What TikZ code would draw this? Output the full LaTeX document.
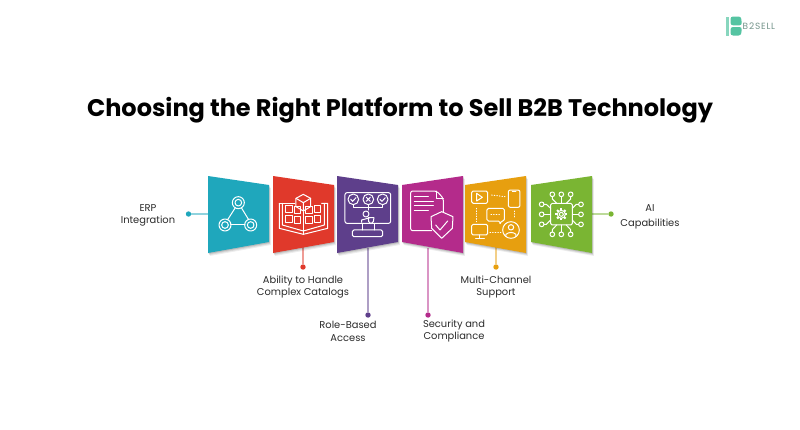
\documentclass[tikz,border=0pt]{standalone}
\usepackage{fontspec}
\setmainfont{Poppins}
\usepackage{tikz}
\usetikzlibrary{arrows.meta, positioning}
\definecolor{tealc}{HTML}{1FA7BC}
\definecolor{redc}{HTML}{E0392B}
\definecolor{purplec}{HTML}{5E3F8B}
\definecolor{magentac}{HTML}{B42B8B}
\definecolor{orangec}{HTML}{E79F0F}
\definecolor{greenc}{HTML}{7AB533}
\definecolor{logoc}{HTML}{55C4A2}
\definecolor{textc}{HTML}{2B2B2B}
\pgfmathsetmacro{\wdpanel}{61}
\tikzset{
	label/.style={font=\fontsize{9.9}{12.2}\selectfont, text=textc, align=center, inner sep=0},
	dot/.style={circle, fill=#1, inner sep=0, minimum size=5.4},
	stem/.style={line width=1.5, #1!50},
	icon/.style={white, line width=1, line join=round, line cap=round},
	dots/.style={icon, dash pattern=on .6 off 2},
	zoomL/.style={shift={(200,165)}, x=.3333pt, y=-.3333pt},
	zoomR/.style={shift={(395,165)}, x=.3333pt, y=-.3333pt},
}

\begin{document}
\begin{tikzpicture}[x=1pt, y=-1pt]
	\useasboundingbox[fill=white] (0,0) rectangle (800,429);

	% title and logo
	\node[font=\fontsize{24}{30}\selectfont\bfseries, text=black, inner sep=0] (title) at (400,110.5) {Choosing the Right Platform to Sell B2B Technology};
	\fill[logoc!70] (726,16.5) rectangle (729,35.5);
	\fill[logoc, rounded corners=2.5] (730.5,16.5) -- (741,16.5) -- (742,25.3) -- (730.5,25.3) -- cycle;
	\fill[logoc, rounded corners=2.5] (730.5,27) -- (742,27) -- (741,35.5) -- (730.5,35.5) -- cycle;
	\node[font=\fontsize{9}{10}\selectfont\addfontfeature{LetterSpace=9}, text=gray!70!logoc, inner sep=0, anchor=west] (logo) at (742.5,26) {B2SELL};

	% connectors, they run under the panels
	\coordinate (erpEdge) at (210,214);
	\coordinate (catalogEdge) at (303,245);
	\coordinate (roleEdge) at (368,248);
	\coordinate (securityEdge) at (428,248);
	\coordinate (channelEdge) at (496,245);
	\coordinate (aiEdge) at (590,214);
	\node[dot=tealc] (erpDot) at (188.5,214) {};
	\node[dot=redc] (catalogDot) at (303,267) {};
	\node[dot=purplec] (roleDot) at (368,315) {};
	\node[dot=magentac] (securityDot) at (428,315) {};
	\node[dot=orangec] (channelDot) at (496,267) {};
	\node[dot=greenc] (aiDot) at (611,214) {};
	\draw[stem=tealc] (erpEdge) -- (erpDot);
	\draw[stem=redc] (catalogEdge) -- (catalogDot);
	\draw[stem=purplec] (roleEdge) -- (roleDot);
	\draw[stem=magentac] (securityEdge) -- (securityDot);
	\draw[stem=orangec] (channelEdge) -- (channelDot);
	\draw[stem=greenc] (aiEdge) -- (aiDot);

	% labels
	\node[label] (erpLabel) at (148,215.3) {ERP\\Integration};
	\node[label] (catalogLabel) at (303,286.8) {Ability to Handle\\Complex Catalogs};
	\node[label] (roleLabel) at (348,331.3) {Role-Based\\Access};
	\node[label] (securityLabel) at (454,331.3) {Security and\\Compliance};
	\node[label] (channelLabel) at (496,286.8) {Multi-Channel\\Support};
	\node[label, font=\fontsize{9.9}{15}\selectfont] (aiLabel) at (650,216.5) {AI\\Capabilities};

	% panels with a soft shadow
	\foreach \lx/\ya/\yb/\col in {208/176/185/tealc, 273/176/185/redc, 337/176/185/purplec, 402/185/176/magentac, 465/185/176/orangec, 531/185/176/greenc}{
		\pgfmathsetmacro{\yc}{\yb==185 ? 242 : 253}
		\pgfmathsetmacro{\yd}{\ya==176 ? 253 : 242}
		\foreach \s/\o in {3/.07, 2/.09, 1/.12}{
			\fill[black, opacity=\o] (\lx+\s*.6,\ya+\s) -- (\lx+\wdpanel+\s*.6,\yb+\s) -- (\lx+\wdpanel+\s*.6,\yc+\s) -- (\lx+\s*.6,\yd+\s) -- cycle;
		}
		\fill[\col] (\lx,\ya) -- (\lx+\wdpanel,\yb) -- (\lx+\wdpanel,\yc) -- (\lx,\yd) -- cycle;
	}

	% network icon
	\begin{scope}[zoomL]
		\foreach \cx/\cy in {115/113, 75/180, 152/180}{
			\draw[icon] (\cx,\cy) circle (10);
			\draw[icon] (\cx,\cy) circle (18);
		}
		\draw[icon] (106,128) -- (83,164);
		\draw[icon] (124,128) -- (146,164);
		\draw[icon] (92,180) -- (135,180);
	\end{scope}

	% book icon
	\begin{scope}[zoomL]
		\draw[icon] (238,115) -- (238,190) -- (310,208) -- (383,190) -- (383,115) -- (365,115);
		\draw[icon] (238,115) -- (285,115);
		\draw[icon] (247,115) -- (247,180) -- (310,198) -- (373,180) -- (373,115);
		\draw[icon] (310,140) -- (310,208);
		\draw[icon] (310,88) -- (332,100) -- (332,125) -- (310,138) -- (288,125) -- (288,100) -- cycle;
		\draw[icon] (288,100) -- (310,113) -- (332,100) (310,113) -- (310,138);
		\foreach \bx/\by in {258/122, 284/125, 318/125, 344/122, 258/152, 284/155, 318/155, 344/152}{
			\draw[icon] (\bx,\by) rectangle ++(19,21);
		}
	\end{scope}

	% monitor icon
	\begin{scope}[zoomL]
		\draw[icon, rounded corners=2] (435,83) rectangle (572,175);
		\foreach \cx in {460, 505, 548}{
			\draw[icon] (\cx,103) circle (16);
		}
		\draw[icon] (452,103) -- (458,109) -- (468,98);
		\draw[icon] (499,97) -- (511,109) (511,97) -- (499,109);
		\draw[icon] (540,103) -- (546,109) -- (556,98);
		\draw[icon] (460,119) -- (460,128) -- (548,128) -- (548,119);
		\draw[icon] (505,119) -- (505,135);
		\draw[icon] (498,147) circle (9);
		\draw[icon] (485,172) -- (485,165) -- (510,158);
		\draw[icon] (505,158) -- (522,158) -- (520,170) -- (513,176) -- (506,170) -- cycle;
		\draw[icon] (487,175) -- (487,195) (525,175) -- (525,195);
		\draw[icon, rounded corners=1.5] (457,195) rectangle (548,215);
	\end{scope}

	% document and shield icon
	\begin{scope}[zoomR]
		\draw[icon, rounded corners=2] (110,197) -- (47,197) -- (47,78) -- (125,78) -- (145,100) -- (145,142);
		\draw[icon] (125,78) -- (125,100) -- (145,100);
		\draw[icon] (58,95) -- (100,95) (58,110) -- (115,110) (58,122) -- (115,122) (58,135) -- (100,135);
		\draw[icon] (140,140) -- (174,155) -- (172,190) -- (140,220) -- (110,190) -- (108,155) -- cycle;
		\draw[icon] (122,180) -- (135,195) -- (158,168);
	\end{scope}

	% channels icon
	\begin{scope}[zoomR]
		\draw[icon, rounded corners=1.5] (230,78) rectangle (278,115);
		\draw[icon] (245,85) -- (262,97) -- (245,108) -- cycle;
		\draw[icon, rounded corners=2] (340,75) rectangle (375,127);
		\draw[icon] (352,78) -- (363,78);
		\draw[icon, rounded corners=1.5] (315,168) -- (276,168) -- (276,130) -- (328,130) -- (328,168) -- (318,168) -- (315,180) -- cycle;
		\draw[dots] (288,148) -- (316,148);
		\draw[dots] (290,90) -- (330,95);
		\draw[dots] (245,130) -- (245,170);
		\draw[dots] (358,138) -- (358,160);
		\draw[dots] (285,204) -- (318,204);
		\draw[icon, rounded corners=1.5] (230,178) rectangle (278,210);
		\draw[icon] (255,210) -- (255,220) (242,220) -- (268,220);
		\draw[icon] (348,195) circle (25);
		\draw[icon] (348,187) circle (8);
		\draw[icon] (333,214) -- (333,208) to[bend left=40] (363,208) -- (363,214);
	\end{scope}

	% chip icon
	\begin{scope}[zoomR]
		\draw[icon, rounded corners=1.5] (467,115) rectangle (532,180);
		\draw[icon] (499,148) circle (6);
		\draw[icon] (499,148) circle (12);
		\foreach \a in {0,45,...,315}{
			\draw[white, line width=2] (499,148) ++(\a:12) -- ++(\a:6);
		}
		\foreach \px/\qx in {472/485, 499/499, 527/514}{
			\draw[icon] (\px,88) circle (7);
			\draw[icon] (\px,95) -- (\px,102) -- (\qx,115);
			\draw[icon] (\px,208) circle (7);
			\draw[icon] (\px,201) -- (\px,194) -- (\qx,180);
		}
		\foreach \py/\qy in {118/130, 148/148, 178/165}{
			\draw[icon] (440,\py) circle (7);
			\draw[icon] (447,\py) -- (454,\py) -- (467,\qy);
			\draw[icon] (558,\py) circle (7);
			\draw[icon] (551,\py) -- (544,\py) -- (532,\qy);
		}
	\end{scope}
\end{tikzpicture}
\end{document}
